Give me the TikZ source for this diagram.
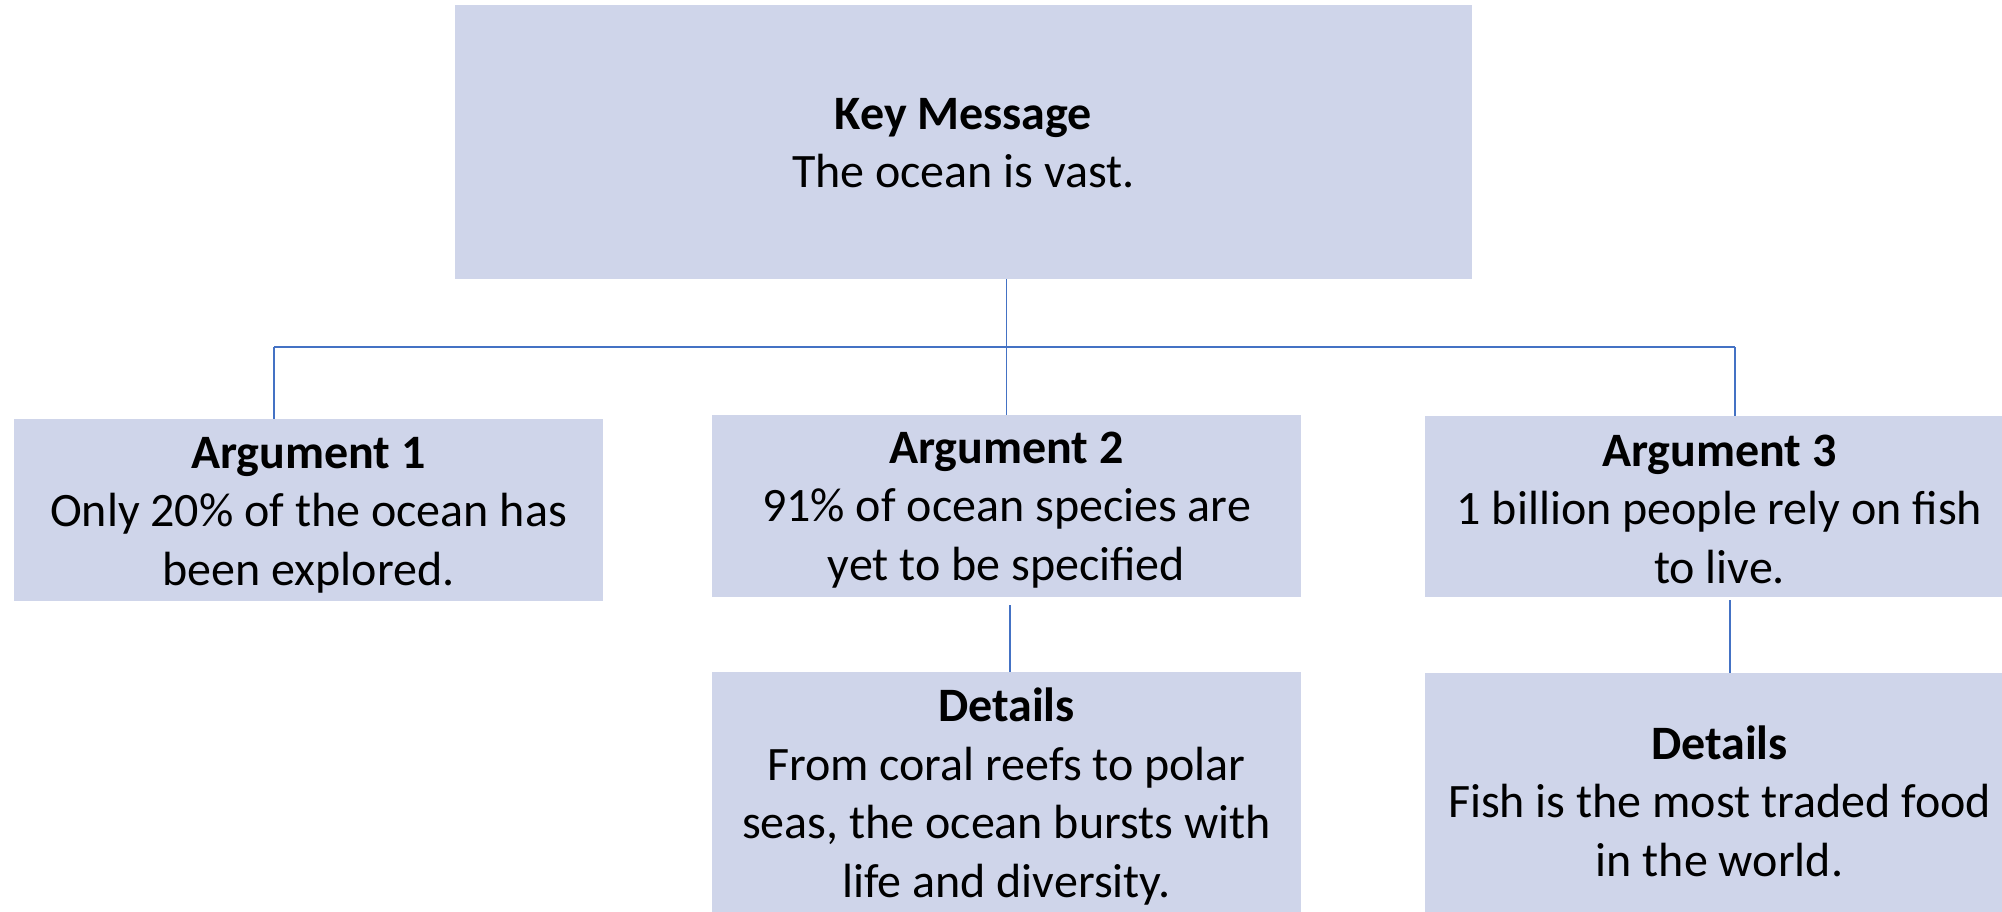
\documentclass[tikz,border=0pt]{standalone}
\usepackage{fontspec}
\setmainfont{Carlito}
\definecolor{boxfill}{HTML}{CFD5EA}
\definecolor{linec}{HTML}{4472C4}
\begin{document}
\begin{tikzpicture}[x=1pt,y=-1pt,
  box/.style={fill=boxfill, draw=none, inner sep=0pt, outer sep=0pt},
  txt/.style={align=center, font=\fontsize{48}{58.5}\selectfont, inner sep=0pt, anchor=base},
  conn/.style={draw=linec, line width=1.3pt}]
\useasboundingbox (0,0) rectangle (2002,912);
% boxes
\node[box, minimum width=1017pt, minimum height=274pt] (key) at (963.5,142) {};
\node[box, minimum width=589pt, minimum height=182pt] (a1) at (308.5,510) {};
\node[box, minimum width=589pt, minimum height=182pt] (a2) at (1006.5,506) {};
\node[box, minimum width=589pt, minimum height=181pt] (a3) at (1719.5,506.5) {};
\node[box, minimum width=589pt, minimum height=260pt] (d2) at (1006.5,802) {};
\node[box, minimum width=589pt, minimum height=260pt] (d3) at (1719.5,803) {};
% texts (anchor base = last line's baseline)
\node[txt] (tkey) at (963.5,188) {\textbf{Key Message}\\The ocean is vast.};
\node[txt] (ta1) at (308.5,585) {\textbf{Argument 1}\\Only 20\% of the ocean has\\been explored.};
\node[txt] (ta2) at (1006.5,580) {\textbf{Argument 2}\\91\% of ocean species are\\yet to be specified};
\node[txt] (ta3) at (1719.5,583) {\textbf{Argument 3}\\1 billion people rely on fish\\to live.};
\node[txt] (td2) at (1006.5,897) {\textbf{Details}\\From coral reefs to polar\\seas, the ocean bursts with\\life and diversity.};
\node[txt] (td3) at (1719.5,876) {\textbf{Details}\\Fish is the most traded food\\in the world.};
% connectors
\coordinate (hl) at (274,347);
\coordinate (hr) at (1735,347);
\coordinate (c2) at (1010,605);
\coordinate (c3) at (1730,600);
\draw[conn] (key.south -| a2.north) -- (a2.north);
\draw[conn] (hl) -- (hr);
\draw[conn] (hl) -- (hl |- a1.north);
\draw[conn] (hr) -- (hr |- a3.north);
\draw[conn] (c2) -- (c2 |- d2.north);
\draw[conn] (c3) -- (c3 |- d3.north);
\end{tikzpicture}
\end{document}
